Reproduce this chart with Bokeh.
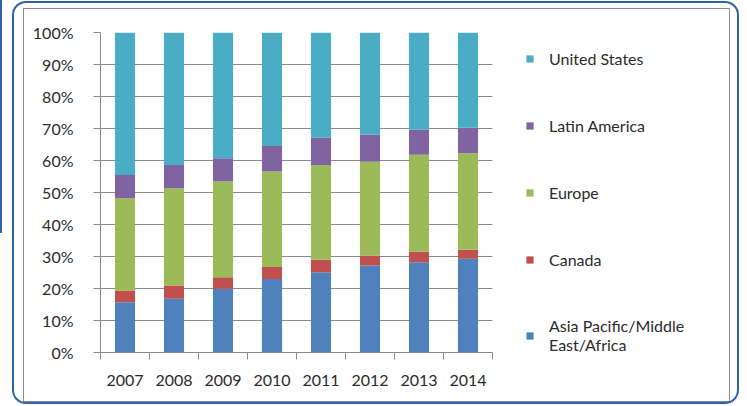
from bokeh.plotting import figure
from bokeh.models import (FixedTicker, PrintfTickFormatter, Legend, LegendItem,
                          ColumnDataSource, Range1d, InlineStyleSheet)
from bokeh.embed import file_html
from bokeh.resources import INLINE

years = ["2007", "2008", "2009", "2010", "2011", "2012", "2013", "2014"]
asia = [15.7, 16.8, 19.9, 23.0, 25.1, 27.2, 28.2, 29.3]
canada = [3.7, 4.1, 3.6, 3.7, 3.9, 3.1, 3.3, 2.8]
europe = [28.8, 30.4, 29.9, 29.9, 29.6, 29.3, 30.3, 30.2]
latin = [7.3, 7.3, 7.3, 7.9, 8.5, 8.5, 7.8, 7.9]
us = [44.5, 41.4, 39.3, 35.5, 32.9, 31.9, 30.4, 29.8]
series_labels = ["Asia Pacific/Middle\nEast/Africa", "Canada", "Europe", "Latin America", "United States"]
colors = ["#4F81BD", "#C0504D", "#9BBB59", "#8064A2", "#4BACC6"]
y_ticks = [0, 10, 20, 30, 40, 50, 60, 70, 80, 90, 100]

FONT = "Lato"
TXT = "#2b2b2b"
GRID = "#8a8a8a"

xs = list(range(1, len(years) + 1))
source = ColumnDataSource(dict(x=xs, asia=asia, canada=canada, europe=europe, latin=latin, us=us))

G = "linear-gradient(#8c8c8c,#8c8c8c)"
frame_css = InlineStyleSheet(css=f"""
:host {{ position: relative; }}
:host::before {{ content: ""; position: absolute; left: 12px; top: 1px; width: 727px; height: 403px;
  border: 2px solid #2f62a6; border-radius: 14px; box-sizing: border-box; pointer-events: none; z-index: 5;
  background:
    {G} 9px 5px / 707px 1px no-repeat,
    {G} 9px 398px / 707px 1px no-repeat,
    {G} 9px 5px / 1px 394px no-repeat,
    {G} 715px 5px / 1px 394px no-repeat; }}
:host::after {{ content: ""; position: absolute; left: 0px; top: 0px; width: 2px; height: 233px;
  background: #2f62a6; pointer-events: none; z-index: 5; }}
""")

p = figure(frame_width=392, frame_height=320, min_border_left=100, min_border_right=255,
           min_border_top=32, min_border_bottom=54, output_backend="svg", toolbar_location=None,
           x_range=Range1d(0.5, len(years) + 0.5), y_range=Range1d(0, 100),
           stylesheets=[frame_css])
p.background_fill_color = "white"
p.border_fill_color = "white"
p.outline_line_color = None

renderers = p.vbar_stack(["asia", "canada", "europe", "latin", "us"], x="x", width=0.41,
                         color=colors, line_color=None, source=source)

# axes
p.xaxis.ticker = FixedTicker(ticks=xs, minor_ticks=[i + 0.5 for i in range(0, len(years) + 1)])
p.xaxis.major_label_overrides = {x: y for x, y in zip(xs, years)}
p.xaxis.major_tick_out = 0
p.xaxis.major_tick_in = 0
p.xaxis.minor_tick_out = 7
p.xaxis.minor_tick_in = 0
p.xaxis.minor_tick_line_color = GRID
p.xaxis.major_label_standoff = 15

p.yaxis.ticker = FixedTicker(ticks=y_ticks, minor_ticks=[])
p.yaxis.formatter = PrintfTickFormatter(format="%d%%")
p.yaxis.major_tick_out = 7
p.yaxis.major_tick_in = 0
p.yaxis.major_label_standoff = 20

for ax in (p.xaxis[0], p.yaxis[0]):
    ax.axis_line_color = GRID
    ax.major_tick_line_color = GRID
    ax.major_label_text_font = FONT
    ax.major_label_text_font_size = "16px"
    ax.major_label_text_color = TXT

p.xgrid.grid_line_color = None
p.ygrid.grid_line_color = GRID
p.ygrid.ticker = FixedTicker(ticks=y_ticks)

# legend
items = [LegendItem(label=lab, renderers=[r]) for lab, r in zip(series_labels, renderers)][::-1]
legend = Legend(items=items, location=(33, -2), orientation="vertical",
                glyph_width=9, glyph_height=9, label_standoff=15, spacing=47,
                label_height=20, padding=0, margin=0,
                label_text_font=FONT, label_text_font_size="16px", label_text_color=TXT,
                label_text_line_height=1.6,
                border_line_color=None, background_fill_alpha=0)
p.add_layout(legend, "right")

open("out.html", "w").write(file_html(p, INLINE))
